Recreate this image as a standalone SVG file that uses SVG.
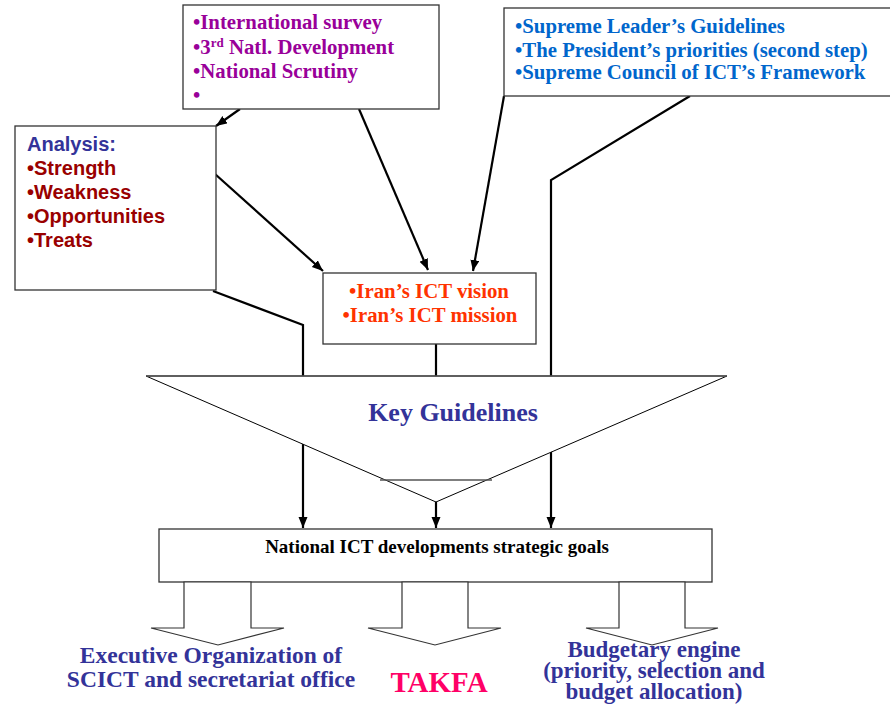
<svg xmlns="http://www.w3.org/2000/svg" width="890" height="706" viewBox="0 0 890 706">
<defs>
<marker id="ah" markerUnits="userSpaceOnUse" markerWidth="12" markerHeight="10" refX="11" refY="4.5" orient="auto">
<path d="M0,0 L11,4.5 L0,9 z" fill="#000"/>
</marker>
<style>
.box{fill:#fff;stroke:#333;stroke-width:1.3}
.con{fill:none;stroke:#000;stroke-width:2.2}
.arr{fill:none;stroke:#000;stroke-width:2.2;marker-end:url(#ah)}
.hol{fill:#fff;stroke:#333;stroke-width:1.2}
.tb{font-family:"Liberation Serif","Times New Roman",serif;font-weight:bold}
.sb{font-family:"Liberation Sans",Arial,sans-serif;font-weight:bold}
.pur{fill:#990099;font-size:20.8px}
.blu{fill:#0066CC;font-size:20.8px}
.red{fill:#990000;font-size:20px}
.ora{fill:#FF3300;font-size:20.8px}
.nav{fill:#333399}
</style>
</defs>
<rect width="890" height="706" fill="#fff"/>
<g id="connectors">
<line class="arr" x1="240" y1="109" x2="216" y2="126"/>
<line class="arr" x1="359" y1="109" x2="428" y2="270"/>
<line class="arr" x1="504" y1="96" x2="473" y2="271"/>
<line class="arr" x1="215" y1="174" x2="323" y2="271"/>
<polyline class="con" points="690,96 551,180 551,376"/>
<polyline class="con" points="213,291 303,325 303,376"/>
<line class="con" x1="436" y1="344" x2="436" y2="376"/>
<line class="arr" x1="303" y1="376" x2="303" y2="528"/>
<line class="arr" x1="436" y1="376" x2="436" y2="528"/>
<line class="arr" x1="551" y1="376" x2="551" y2="528"/>
</g>
<g id="top-inputs">
<rect class="box" x="183" y="5" width="256" height="104"/>
<text class="tb pur" x="193" y="29">•International survey</text>
<text class="tb pur" x="193" y="54">•3<tspan font-size="13" dy="-7">rd</tspan><tspan dy="7"> Natl. Development</tspan></text>
<text class="tb pur" x="193" y="78">•National Scrutiny</text>
<text class="tb pur" x="193" y="102">•</text>
</g>
<g id="leadership">
<rect class="box" x="504" y="8" width="400" height="88"/>
<text class="tb blu" x="515" y="33">•Supreme Leader’s Guidelines</text>
<text class="tb blu" x="515" y="57">•The President’s priorities (second step)</text>
<text class="tb blu" x="515" y="79">•Supreme Council of ICT’s Framework</text>
</g>
<g id="analysis">
<rect class="box" x="15" y="126" width="201" height="164"/>
<text class="sb nav" x="27" y="151" font-size="20">Analysis:</text>
<text class="sb red" x="27" y="175">•Strength</text>
<text class="sb red" x="27" y="199">•Weakness</text>
<text class="sb red" x="27" y="223">•Opportunities</text>
<text class="sb red" x="27" y="247">•Treats</text>
</g>
<g id="vision">
<rect class="box" x="323" y="273" width="213" height="71"/>
<text class="tb ora" x="429" y="298" text-anchor="middle">•Iran’s ICT vision</text>
<text class="tb ora" x="430" y="322" text-anchor="middle">•Iran’s ICT mission</text>
</g>
<g id="key-guidelines">
<polygon points="146,376 727,376 436,502" fill="#fff" stroke="#000" stroke-width="1"/>
<line x1="146" y1="376" x2="727" y2="376" stroke="#555" stroke-width="1.6"/>
<line x1="380" y1="480" x2="492" y2="480" stroke="#555" stroke-width="1.3"/>
<text class="tb nav" x="453" y="421" font-size="26" text-anchor="middle">Key Guidelines</text>
</g>
<g id="goals">
<rect class="box" x="159" y="529" width="553" height="53"/>
<text class="tb" x="437" y="553" font-size="19" fill="#000" text-anchor="middle">National ICT developments strategic goals</text>
</g>
<g id="executive">
<polygon class="hol" points="184,582 251,582 251,628 284,628 218,645 151,628 184,628"/>
<text class="tb nav" x="211" y="663" font-size="23.5" text-anchor="middle">Executive Organization of</text>
<text class="tb nav" x="211" y="687" font-size="23.5" text-anchor="middle">SCICT and secretariat office</text>
</g>
<g id="takfa">
<polygon class="hol" points="402,582 468,582 468,628 501,628 435,645 368,628 402,628"/>
<text class="tb" x="439" y="692" font-size="29" fill="#FF0066" text-anchor="middle">TAKFA</text>
</g>
<g id="budgetary">
<polygon class="hol" points="619,582 685,582 685,628 718,628 652,645 586,628 619,628"/>
<text class="tb nav" x="654" y="657" font-size="23" text-anchor="middle">Budgetary engine</text>
<text class="tb nav" x="654" y="678" font-size="23" text-anchor="middle">(priority, selection and</text>
<text class="tb nav" x="654" y="699" font-size="23" text-anchor="middle">budget allocation)</text>
</g>
</svg>
